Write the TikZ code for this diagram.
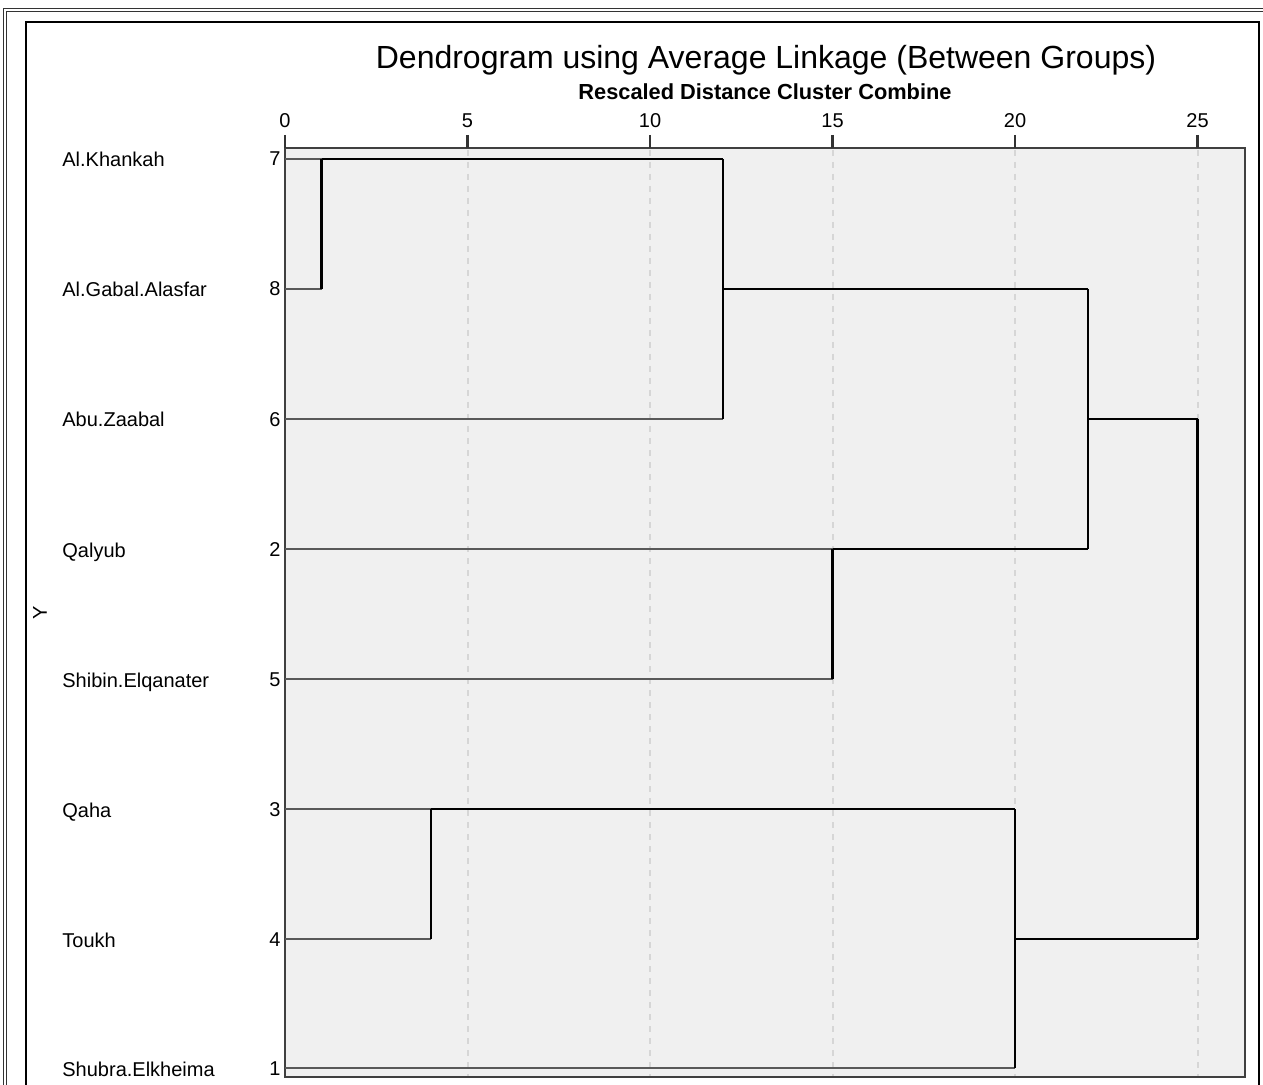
\documentclass[tikz,border=0pt]{standalone}
\usepackage{fontspec}
\setmainfont{Liberation Sans}
\begin{document}
\begin{tikzpicture}[x=0.5pt,y=-0.5pt,line join=miter,
  leaf/.style={draw=black!65,line width=1.3pt},
  link/.style={draw=black,line width=1.4pt},
  gridline/.style={draw=black!16,line width=1pt,dash pattern=on 3pt off 3pt},
  case/.style={anchor=base west,inner sep=0pt,font=\fontsize{10}{12}\selectfont},
  casenum/.style={anchor=base east,inner sep=0pt,font=\fontsize{10}{12}\selectfont},
  ticklbl/.style={anchor=base,inner sep=0pt,font=\fontsize{10}{12}\selectfont}]
\useasboundingbox (0,0) rectangle (1263,1085);
\clip (0,0) rectangle (1263,1085);
%%
\draw [black!80,line width=0.5pt] (3.5,1100) -- (3.5,8.5) -- (1290,8.5);
\draw [black!80,line width=0.5pt] (6.5,1100) -- (6.5,11.5) -- (1290,11.5);
\draw [black,line width=1.3pt] (26,1100) -- (26,22) -- (1259,22) -- (1259,1100);
\node (title) at (766,69) [anchor=base,inner sep=0pt,font=\fontsize{16}{19}\selectfont] {Dendrogram using Average Linkage (Between Groups)};
\node (sub) at (765,100) [anchor=base,inner sep=0pt,font=\bfseries\fontsize{10.9}{13}\selectfont] {Rescaled Distance Cluster Combine};
\node (ylab) at (40,613) [rotate=90,inner sep=0pt,font=\fontsize{10}{12}\selectfont] {Y};
%
\fill [black!6] (285,148) rectangle (1245,1077);
\foreach \d in {5,10,...,25}
  \draw [gridline] (285+36.5*\d,150) -- (285+36.5*\d,1076);
\draw [black!75,line width=1.2pt] (285,148) rectangle (1245,1077);
\foreach \d in {0,5,...,25} {
  \draw [black!80,line width=1.2pt] (285+36.5*\d,135) -- (285+36.5*\d,148);
  \node (t\d) at (285+36.5*\d,128) [ticklbl] {\d};
}
%
\node (c7) at (62,167) [case] {Al.Khankah};
\node (c8) at (62,297) [case] {Al.Gabal.Alasfar};
\node (c6) at (62,427) [case] {Abu.Zaabal};
\node (c2) at (62,557) [case] {Qalyub};
\node (c5) at (62,687) [case] {Shibin.Elqanater};
\node (c3) at (62,817) [case] {Qaha};
\node (c4) at (62,947) [case] {Toukh};
\node (c1) at (62,1076) [case] {Shubra.Elkheima};
\node (n7) at (281,166) [casenum] {7};
\node (n8) at (281,296) [casenum] {8};
\node (n6) at (281,426) [casenum] {6};
\node (n2) at (281,556) [casenum] {2};
\node (n5) at (281,686) [casenum] {5};
\node (n3) at (281,816) [casenum] {3};
\node (n4) at (281,946) [casenum] {4};
\node (n1) at (281,1075) [casenum] {1};
%
\coordinate (l7) at (285,159);
\coordinate (l8) at (285,289);
\coordinate (l6) at (285,419);
\coordinate (l2) at (285,549);
\coordinate (l5) at (285,679);
\coordinate (l3) at (285,809);
\coordinate (l4) at (285,939);
\coordinate (l1) at (285,1068);
\coordinate (m78a) at (321.5,159);
\coordinate (m78b) at (321.5,289);
\coordinate (m786a) at (723,159);
\coordinate (m786b) at (723,419);
\coordinate (m786c) at (723,289);
\coordinate (m25a) at (832.5,549);
\coordinate (m25b) at (832.5,679);
\coordinate (mtopa) at (1088,289);
\coordinate (mtopb) at (1088,549);
\coordinate (mtopc) at (1088,419);
\coordinate (m34a) at (431,809);
\coordinate (m34b) at (431,939);
\coordinate (m341a) at (1015,809);
\coordinate (m341b) at (1015,1068);
\coordinate (m341c) at (1015,939);
\coordinate (mroota) at (1197.5,419);
\coordinate (mrootb) at (1197.5,939);
%
\draw [leaf] (l7) -- (m78a);
\draw [leaf] (l8) -- (m78b);
\draw [leaf] (l6) -- (m786b);
\draw [leaf] (l2) -- (m25a);
\draw [leaf] (l5) -- (m25b);
\draw [leaf] (l3) -- (m34a);
\draw [leaf] (l4) -- (m34b);
\draw [leaf] (l1) -- (m341b);
\draw [link] (m78a) -- (m78b);
\draw [link] (m78a) -- (m786a);
\draw [link] (m786a) -- (m786b);
\draw [link] (m786c) -- (mtopa);
\draw [link] (m25a) -- (m25b);
\draw [link] (m25a) -- (mtopb);
\draw [link] (mtopa) -- (mtopb);
\draw [link] (mtopc) -- (mroota);
\draw [link] (m34a) -- (m34b);
\draw [link] (m34a) -- (m341a);
\draw [link] (m341a) -- (m341b);
\draw [link] (m341c) -- (mrootb);
\draw [link] (mroota) -- (mrootb);
%
\end{tikzpicture}
\end{document}
